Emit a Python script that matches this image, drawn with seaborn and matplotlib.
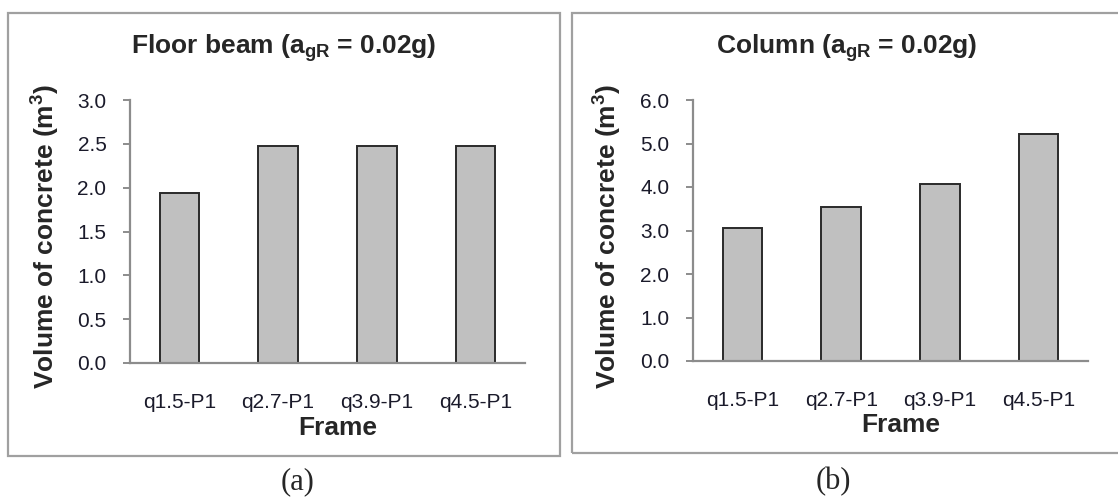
import matplotlib
matplotlib.use('Agg')
import matplotlib.pyplot as plt
import seaborn as sns
import pandas as pd
from matplotlib.patches import Rectangle

# data
frames = ['q1.5-P1', 'q2.7-P1', 'q3.9-P1', 'q4.5-P1']
beam_volume = [1.94, 2.47, 2.47, 2.47]
column_volume = [3.05, 3.53, 4.06, 5.21]
beam_ticks = [0.0, 0.5, 1.0, 1.5, 2.0, 2.5, 3.0]
column_ticks = [0.0, 1.0, 2.0, 3.0, 4.0, 5.0, 6.0]

sns.set_style('white')
plt.rcParams['font.family'] = ['Liberation Sans', 'DejaVu Sans']
plt.rcParams['mathtext.fontset'] = 'custom'
plt.rcParams['mathtext.rm'] = 'Liberation Sans:bold'
plt.rcParams['mathtext.it'] = 'Liberation Sans:bold'
plt.rcParams['mathtext.bf'] = 'Liberation Sans:bold'

W, H = 1118, 501
fig = plt.figure(figsize=(W / 100, H / 100), dpi=100)

def px(x0, y0, x1, y1):
    # pixel box -> figure fraction [left, bottom, width, height]
    return [x0 / W, 1 - y1 / H, (x1 - x0) / W, (y1 - y0) / H]

def draw_panel(ax, values, ticks, title, title_x, ylabel_x, caption, caption_x):
    df = pd.DataFrame({'Frame': frames, 'Volume': values})
    sns.barplot(data=df, x='Frame', y='Volume', ax=ax, color='#c0c0c0',
                saturation=1, width=0.4, edgecolor='#2a2a2a', linewidth=1.4)
    ax.set_ylim(ticks[0], ticks[-1])
    ax.set_xlim(-0.5, 3.5)
    ax.set_yticks(ticks)
    ax.set_yticklabels([format(t, '.1f') for t in ticks])
    for s in ['top', 'right']:
        ax.spines[s].set_visible(False)
    for s in ['left', 'bottom']:
        ax.spines[s].set_color('#8c8c8c')
        ax.spines[s].set_linewidth(1.6)
    ax.tick_params(axis='y', left=True, length=5, width=1.4, color='#8c8c8c',
                   labelsize=15, labelcolor='#1a1a2a', pad=12)
    ax.tick_params(axis='x', bottom=False, labelsize=15, labelcolor='#1a1a2a', pad=18)
    ax.set_xlabel('Frame', fontsize=19, fontweight='bold')
    ax.xaxis.set_label_coords(0.525, -0.2)
    ax.set_ylabel('')
    fig.text(title_x / W, 1 - 48 / H, title, fontsize=19, fontweight='bold',
             ha='center', va='center')
    fig.text(ylabel_x / W, 1 - 236 / H, 'Volume of concrete (m$^3$)', fontsize=19,
             fontweight='bold', rotation=90, ha='center', va='center')
    fig.text(caption_x / W, 1 - 482 / H, caption, fontsize=22,
             family='Liberation Serif', ha='center', va='center')

ax1 = fig.add_axes(px(130, 100, 525, 363))
ax2 = fig.add_axes(px(693, 100, 1088, 361))
draw_panel(ax1, beam_volume, beam_ticks, 'Floor beam (a$_{gR}$ = 0.02g)', 284, 46, '(a)', 298)
draw_panel(ax2, column_volume, column_ticks, 'Column (a$_{gR}$ = 0.02g)', 847, 608, '(b)', 833)

# outer frames around each chart
for x0, y0, x1, y1 in [(8, 13, 560, 456), (572, 13, 1125, 453)]:
    fig.patches.append(Rectangle((x0 / W, 1 - y1 / H), (x1 - x0) / W, (y1 - y0) / H,
                                 transform=fig.transFigure, fill=False,
                                 edgecolor='#a0a0a0', linewidth=1.6))

fig.savefig('out.png', dpi=100)
